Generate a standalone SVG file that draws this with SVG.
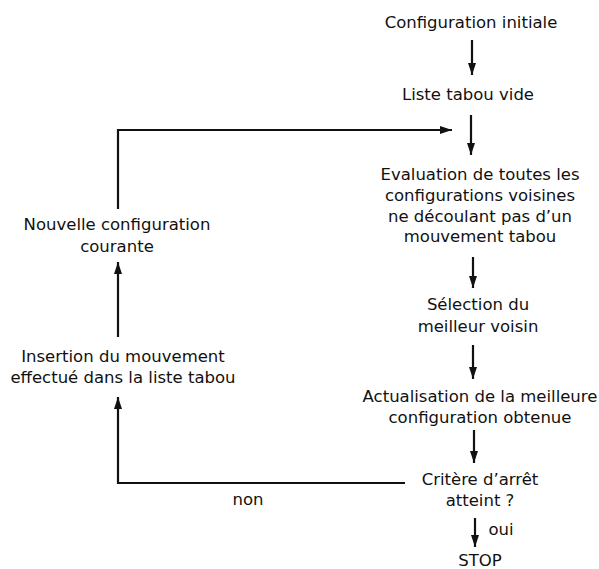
<svg xmlns="http://www.w3.org/2000/svg" width="599" height="569" viewBox="0 0 599 569">
<style>
text{font-family:"DejaVu Sans",sans-serif;font-size:16.5px;fill:#111;text-anchor:middle}
.c{fill:none;stroke:#111;stroke-width:2.2}
</style>
<defs>
<marker id="a" markerUnits="userSpaceOnUse" markerWidth="13" markerHeight="9" refX="12" refY="4" orient="auto"><path d="M0,0 L12,4 L0,8 z" fill="#111"/></marker>
</defs>
<rect width="599" height="569" fill="#fff"/>
<g id="connectors">
<path class="c" d="M472,40 V75" marker-end="url(#a)"/>
<path class="c" d="M471,115 V155" marker-end="url(#a)"/>
<path class="c" d="M473,257 V288" marker-end="url(#a)"/>
<path class="c" d="M473,345 V379" marker-end="url(#a)"/>
<path class="c" d="M474,430 V463" marker-end="url(#a)"/>
<path class="c" d="M475,518 V547" marker-end="url(#a)"/>
<path class="c" d="M405,483 H118 V397" marker-end="url(#a)"/>
<path class="c" d="M118,337 V262" marker-end="url(#a)"/>
<path class="c" d="M118,209 V130 H452" marker-end="url(#a)"/>
<text x="248" y="505">non</text>
<text x="501" y="535">oui</text>
</g>
<g id="n1"><text x="471" y="28">Configuration initiale</text></g>
<g id="n2"><text x="468" y="100">Liste tabou vide</text></g>
<g id="n3"><text x="480" y="180">Evaluation de toutes les</text><text x="480" y="201">configurations voisines</text><text x="480" y="222">ne découlant pas d’un</text><text x="480" y="242">mouvement tabou</text></g>
<g id="n4"><text x="478" y="310">Sélection du</text><text x="478" y="332">meilleur voisin</text></g>
<g id="n5"><text x="480" y="402">Actualisation de la meilleure</text><text x="480" y="423">configuration obtenue</text></g>
<g id="n6"><text x="480" y="485">Critère d’arrêt</text><text x="480" y="506">atteint ?</text></g>
<g id="n7"><text x="480" y="566">STOP</text></g>
<g id="n8"><text x="123" y="362">Insertion du mouvement</text><text x="123" y="383">effectué dans la liste tabou</text></g>
<g id="n9"><text x="117" y="230">Nouvelle configuration</text><text x="117" y="252">courante</text></g>
</svg>
